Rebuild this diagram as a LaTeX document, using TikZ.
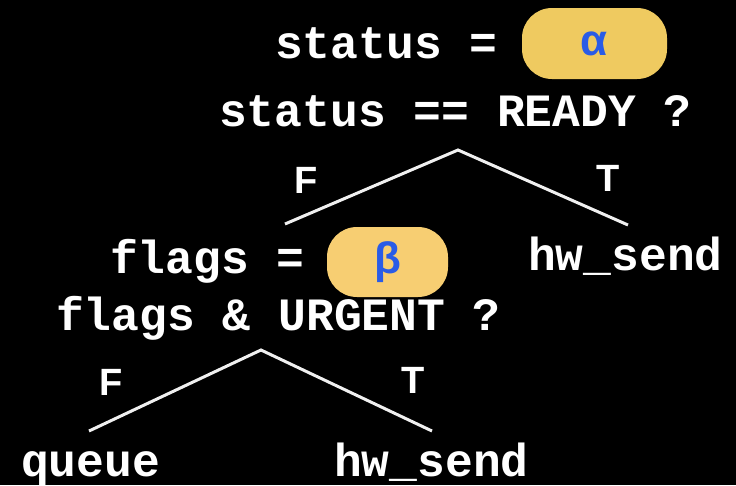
\documentclass[tikz,border=0pt]{standalone}
\usepackage{fontspec}
\newfontfamily\codefont{Liberation Mono}
\newfontfamily\labfont{Liberation Sans}
\definecolor{holeA}{HTML}{EFCA60}
\definecolor{holeB}{HTML}{F7CE72}
\definecolor{greekblue}{HTML}{2A5CE6}
\begin{document}
\begin{tikzpicture}[x=1pt,y=-1pt,
  code/.style={text=white, font=\codefont\bfseries\fontsize{46.3}{50}\selectfont, anchor=base west, inner sep=0pt},
  tf/.style={text=white, font=\labfont\bfseries\fontsize{38}{42}\selectfont, inner sep=0pt},
  hole/.style={rounded corners=30pt, inner sep=0pt, text=greekblue, font=\labfont\bfseries\fontsize{44}{48}\selectfont},
  branch/.style={draw=white!94!black, line width=3pt}]
\fill[black] (0,0) rectangle (736,485);
\useasboundingbox (0,0) rectangle (736,485);
% top level
\node[code] (s1) at (275,58) {status =};
\node[hole, fill=holeA, minimum width=145pt, minimum height=71pt] (alpha) at (594.5,43.5) {α};
\node[code] (s2) at (219,126) {status == READY ?};
\coordinate (a1) at (458,150);
\coordinate (l1) at (285,224);
\coordinate (r1) at (628,225);
\draw[branch] (l1) -- (a1) -- (r1);
\node[tf] (f1) at (306,180) {F};
\node[tf] (t1) at (608,178) {T};
\node[code] (hw1) at (528,270) {hw\_send};
% second level
\node[code] (g1) at (110,273) {flags =};
\node[hole, fill=holeB, minimum width=121pt, minimum height=70pt] (beta) at (387.5,262) {β};
\node[code] (g2) at (56,330) {flags \& URGENT ?};
\coordinate (a2) at (261,350);
\coordinate (l2) at (89,431);
\coordinate (r2) at (432,431);
\draw[branch] (l2) -- (a2) -- (r2);
\node[tf] (f2) at (111,382) {F};
\node[tf] (t2) at (413,380) {T};
\node[code] (q) at (21,476) {queue};
\node[code] (hw2) at (334,476) {hw\_send};
\end{tikzpicture}
\end{document}
